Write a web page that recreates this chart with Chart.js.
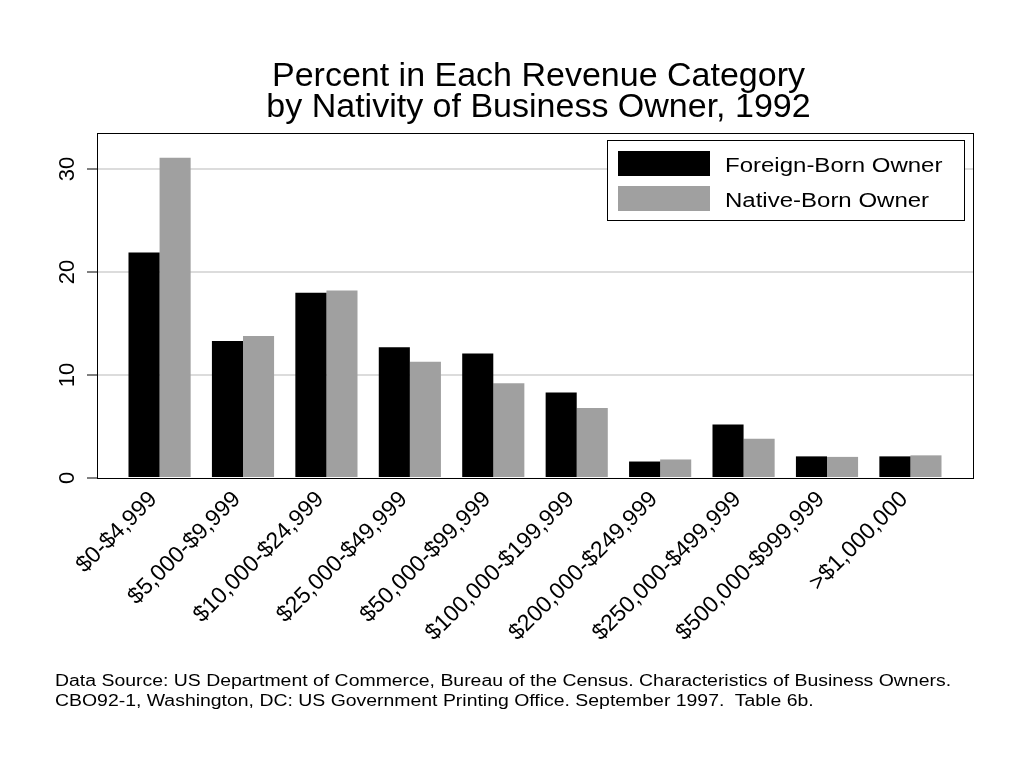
<!DOCTYPE html>
<html>
<head>
<meta charset="utf-8">
<script src="https://cdn.jsdelivr.net/npm/chart.js@4.4.1/dist/chart.umd.min.js"></script>
<style>
  body { margin: 0; background: #fff; font-family: "Liberation Sans", Arial, sans-serif; }
  #wrap { position: relative; width: 1024px; height: 768px; }
  #title { position: absolute; left: 0; width: 1077px; top: 59px; text-align: center;
           font-size: 34px; line-height: 31px; color: #000; }
  #note { position: absolute; left: 55px; top: 671px; font-size: 16px; line-height: 20px; color: #000;
          white-space: pre; transform: scaleX(1.214); transform-origin: 0 0; }
  canvas { position: absolute; left: 0; top: 0; }
</style>
</head>
<body>
<div id="wrap">
  <canvas id="chart" width="1024" height="768"></canvas>
  <div id="title">Percent in Each Revenue Category<br>by Nativity of Business Owner, 1992</div>
  <div id="note">Data Source: US Department of Commerce, Bureau of the Census. Characteristics of Business Owners.
CBO92-1, Washington, DC: US Government Printing Office. September 1997.  Table 6b.</div>
</div>
<script>
// カテゴリと系列
const categories = [
    "$0-$4,999", "$5,000-$9,999", "$10,000-$24,999", "$25,000-$49,999",
    "$50,000-$99,999", "$100,000-$199,999", "$200,000-$249,999",
    "$250,000-$499,999", "$500,000-$999,999", ">$1,000,000"
];
const foreignBorn = [21.9, 13.3, 18.0, 12.7, 12.1, 8.3, 1.6, 5.2, 2.1, 2.1];
const nativeBorn  = [31.1, 13.8, 18.2, 11.3, 9.2, 6.8, 1.8, 3.8, 2.05, 2.2];
const yTicks = [0, 10, 20, 30];
const seriesNames = ["Foreign-Born Owner", "Native-Born Owner"];
const seriesColors = ["#000000", "#a0a0a0"];

const FONT = '"Liberation Sans", Arial, sans-serif';

// 枠・y軸ラベル・凡例を描く
const framePlugin = {
    id: 'frame',
    afterDraw(chart) {
        const c = chart.ctx;
        const a = chart.chartArea;
        c.save();
        c.strokeStyle = '#000';
        c.lineWidth = 1;
        c.strokeRect(Math.round(a.left) + 0.5, Math.round(a.top) + 0.5,
                     Math.round(a.right - a.left), Math.round(a.bottom - a.top));

        // y軸の目盛りラベル（縦書き）
        const ys = chart.scales.y;
        c.fillStyle = '#000';
        c.font = '22px ' + FONT;
        c.textAlign = 'center';
        c.textBaseline = 'middle';
        yTicks.forEach(v => {
            const py = ys.getPixelForValue(v);
            c.save();
            c.translate(68, py);
            c.rotate(-Math.PI / 2);
            c.fillText(String(v), 0, 0);
            c.restore();
        });

        // 凡例
        c.fillStyle = '#fff';
        c.fillRect(607.5, 140.5, 357, 80);
        c.strokeRect(607.5, 140.5, 357, 80);
        c.font = '20px ' + FONT;
        c.textAlign = 'left';
        c.textBaseline = 'alphabetic';
        const rows = [151, 186];
        chart.data.datasets.forEach((ds, i) => {
            c.fillStyle = ds.backgroundColor;
            c.fillRect(618, rows[i], 92, 25);
            c.fillStyle = '#000';
            c.save();
            c.translate(725, rows[i] + 21);
            c.scale(1.2, 1);
            c.fillText(ds.label, 0, 0);
            c.restore();
        });
        c.restore();
    }
};

const ctx = document.getElementById('chart').getContext('2d');
const chart = new Chart(ctx, {
    type: 'bar',
    data: {
        labels: categories.map((_, i) => i + 1),
        datasets: [
            { label: seriesNames[0], data: foreignBorn, backgroundColor: seriesColors[0] },
            { label: seriesNames[1], data: nativeBorn, backgroundColor: seriesColors[1] }
        ]
    },
    options: {
        responsive: false,
        animation: false,
        events: [],
        categoryPercentage: 0.745,
        barPercentage: 1.0,
        layout: { padding: { left: 0, top: 133, right: 51, bottom: 0 } },
        plugins: {
            legend: { display: false },
            title: { display: false },
            tooltip: { enabled: false }
        },
        scales: {
            x: {
                type: 'linear',
                offset: false,
                min: 0.25,
                max: 10.75,
                afterBuildTicks(scale) {
                    scale.ticks = categories.map((_, i) => ({ value: i + 1 }));
                },
                afterFit(scale) { scale.height = 290; },
                ticks: {
                    autoSkip: false,
                    maxRotation: 45,
                    minRotation: 45,
                    padding: 8,
                    labelOffset: -6,
                    color: '#000',
                    font: { family: FONT, size: 23 },
                    callback: (v) => categories[v - 1] || ''
                },
                grid: { display: false, drawTicks: false },
                border: { display: true, color: '#000', width: 1 }
            },
            y: {
                min: 0,
                max: 33.5,
                afterBuildTicks(scale) {
                    scale.ticks = yTicks.map(v => ({ value: v }));
                },
                afterFit(scale) { scale.width = 97; },
                ticks: { display: false },
                grid: {
                    color: (c) => c.tick && c.tick.value === 0 ? 'rgba(0,0,0,0)' : '#dcdcdc',
                    lineWidth: 2,
                    tickLength: 10,
                    tickColor: '#000',
                    tickWidth: 1
                },
                border: { display: true, color: '#000', width: 1 }
            }
        }
    },
    plugins: [framePlugin]
});
</script>
</body>
</html>
